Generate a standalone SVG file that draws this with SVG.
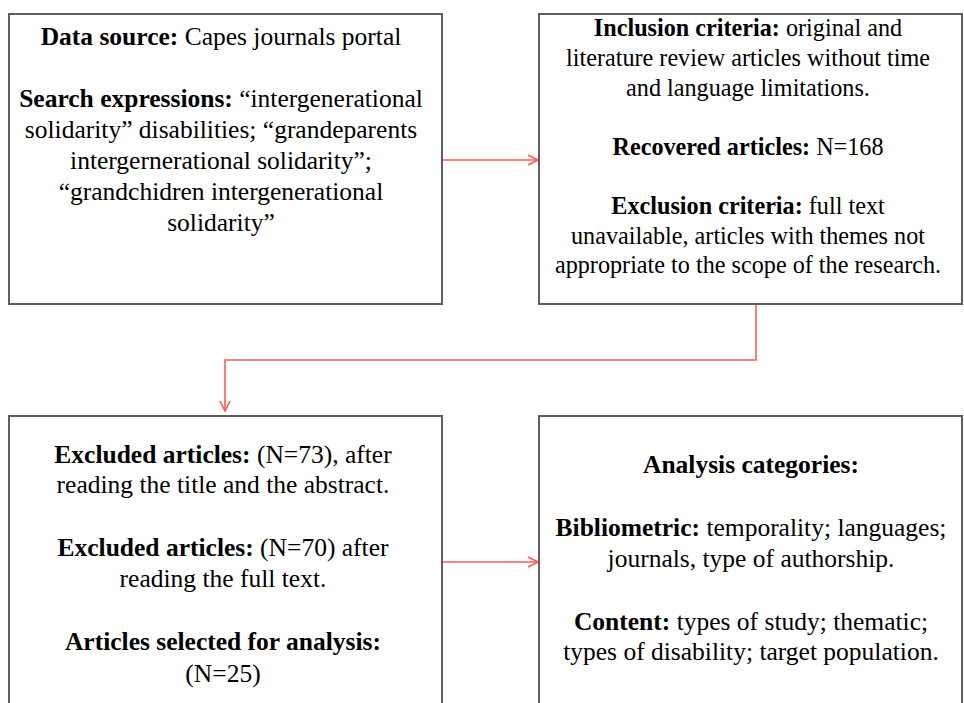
<svg xmlns="http://www.w3.org/2000/svg" width="964" height="703" viewBox="0 0 964 703">
<style>
.box{fill:#fff;stroke:#5f5f5f;stroke-width:2}
text{font-family:"Liberation Serif","Times New Roman",serif;font-size:25.5px;fill:#000;text-anchor:middle}
.sm{font-size:24.2px}
.b{font-weight:bold}
.con{fill:none;stroke:#ff5a5a;stroke-width:1.6}
</style>
<defs>
<marker id="ah" viewBox="0 0 12 12" refX="11" refY="6" markerWidth="12" markerHeight="12" markerUnits="userSpaceOnUse" orient="auto">
<path d="M1,1 L11,6 L1,11" fill="none" stroke="#ff5a5a" stroke-width="1.6"/>
</marker>
</defs>
<rect width="964" height="703" fill="#fff"/>
<g id="connectors">
<path class="con" d="M442,160 H538" marker-end="url(#ah)"/>
<path class="con" d="M756,305 V360 H225 V411" marker-end="url(#ah)"/>
<path class="con" d="M442,562 H538" marker-end="url(#ah)"/>
</g>
<g id="node-source">
<rect class="box" x="9" y="14" width="433" height="290"/>
<text x="221" y="45"><tspan class="b">Data source:</tspan> Capes journals portal</text>
<text x="221" y="107"><tspan class="b">Search expressions:</tspan> “intergenerational</text>
<text x="221" y="138">solidarity” disabilities; “grandeparents</text>
<text x="221" y="169">intergernerational solidarity”;</text>
<text x="221" y="200">“grandchidren intergenerational</text>
<text x="221" y="231">solidarity”</text>
</g>
<g id="node-criteria">
<rect class="box" x="539" y="14" width="423" height="290"/>
<text class="sm" x="748" y="36"><tspan class="b">Inclusion criteria:</tspan> original and</text>
<text class="sm" x="748" y="66">literature review articles without time</text>
<text class="sm" x="748" y="96">and language limitations.</text>
<text class="sm" x="748" y="155"><tspan class="b">Recovered articles:</tspan> N=168</text>
<text class="sm" x="748" y="214"><tspan class="b">Exclusion criteria:</tspan> full text</text>
<text class="sm" x="748" y="244">unavailable, articles with themes not</text>
<text class="sm" x="748" y="273">appropriate to the scope of the research.</text>
</g>
<g id="node-excluded">
<rect class="box" x="9" y="416" width="433" height="300"/>
<text x="223" y="463"><tspan class="b">Excluded articles:</tspan> (N=73), after</text>
<text x="223" y="493">reading the title and the abstract.</text>
<text x="223" y="556"><tspan class="b">Excluded articles:</tspan> (N=70) after</text>
<text x="223" y="587">reading the full text.</text>
<text x="223" y="650" class="b">Articles selected for analysis:</text>
<text x="223" y="682">(N=25)</text>
</g>
<g id="node-analysis">
<rect class="box" x="539" y="416" width="423" height="300"/>
<text x="751" y="473" class="b">Analysis categories:</text>
<text x="751" y="536"><tspan class="b">Bibliometric:</tspan> temporality; languages;</text>
<text x="751" y="567">journals, type of authorship.</text>
<text x="751" y="630"><tspan class="b">Content:</tspan> types of study; thematic;</text>
<text x="751" y="660">types of disability; target population.</text>
</g>
</svg>
